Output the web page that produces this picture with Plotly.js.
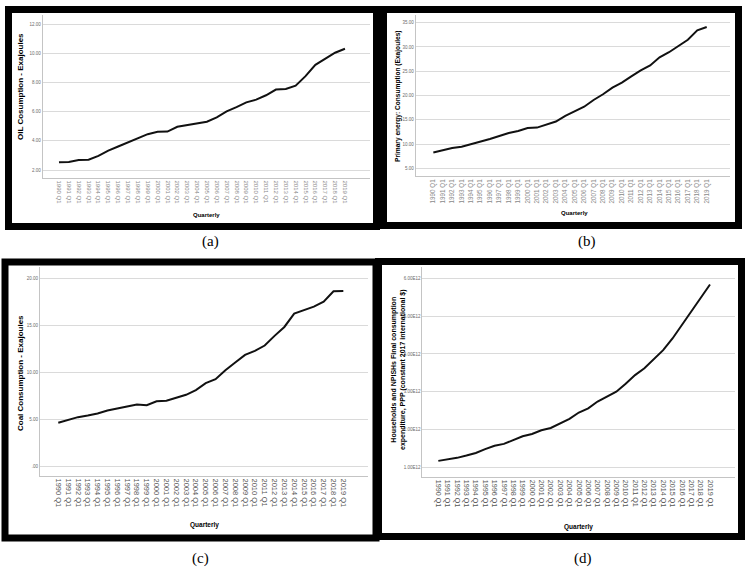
<!DOCTYPE html>
<html>
<head>
<meta charset="utf-8">
<script src="https://cdn.plot.ly/plotly-3.0.1.min.js"></script>
<style>html,body{margin:0;padding:0;background:#fff;}#chart{width:753px;height:571px;}</style>
</head>
<body>
<div id="chart"></div>
<script>
const categories = ['1990 Q1','1991 Q1','1992 Q1','1993 Q1','1994 Q1','1995 Q1','1996 Q1','1997 Q1','1998 Q1','1999 Q1',
  '2000 Q1','2001 Q1','2002 Q1','2003 Q1','2004 Q1','2005 Q1','2006 Q1','2007 Q1','2008 Q1','2009 Q1',
  '2010 Q1','2011 Q1','2012 Q1','2013 Q1','2014 Q1','2015 Q1','2016 Q1','2017 Q1','2018 Q1','2019 Q1'];

const oil = [2.53,2.55,2.69,2.71,2.97,3.33,3.61,3.89,4.21,4.46,4.62,4.64,4.97,5.08,5.22,5.31,5.61,6.02,6.32,6.64,6.83,7.13,7.52,7.56,7.79,8.44,9.22,9.63,10.05,10.32];
const primary = [8.27,8.75,9.17,9.45,9.93,10.55,11.04,11.66,12.29,12.70,13.32,13.39,14.09,14.64,15.82,16.79,17.69,19.07,20.25,21.63,22.67,23.92,25.17,26.20,27.87,28.91,30.22,31.47,33.41,34.10];
const coal = [4.61,4.93,5.21,5.39,5.60,5.92,6.10,6.35,6.56,6.49,6.91,6.95,7.27,7.59,8.09,8.83,9.26,10.21,11.03,11.84,12.27,12.84,13.87,14.82,16.24,16.63,16.99,17.52,18.62,18.65];
const consumption = [1.17e12,1.21e12,1.25e12,1.31e12,1.38e12,1.48e12,1.57e12,1.62e12,1.73e12,1.82e12,1.88e12,1.98e12,2.04e12,2.17e12,2.28e12,2.45e12,2.56e12,2.74e12,2.86e12,3.00e12,3.21e12,3.44e12,3.62e12,3.86e12,4.10e12,4.41e12,4.77e12,5.12e12,5.50e12,5.84e12];

const oilTickVals = [2,4,6,8,10,12];
const oilTickText = ['2.00','4.00','6.00','8.00','10.00','12.00'];
const primaryTickVals = [5,10,15,20,25,30,35];
const primaryTickText = ['5.00','10.00','15.00','20.00','25.00','30.00','35.00'];
const coalTickVals = [0,5,10,15,20];
const coalTickText = ['.00','5.00','10.00','15.00','20.00'];
const consTickVals = [1e12,2e12,3e12,4e12,5e12,6e12];
const consTickText = ['1.00E12','2.00E12','3.00E12','4.00E12','5.00E12','6.00E12'];

const W = 753, H = 571;
const fx = p => p / W;
const fy = p => 1 - p / H;
const SANS = 'Liberation Sans, Arial, sans-serif';

function xAxis(x0, x1, range, angle, size, color, anchor) {
  return {
    domain: [fx(x0), fx(x1)], anchor: anchor, type: 'category', range: range,
    showgrid: false, zeroline: false, showline: true, linecolor: '#c4c4c4', linewidth: 1,
    ticks: '', tickangle: angle, tickfont: {family: SANS, size: size, color: color}
  };
}
function yAxis(y0, y1, range, vals, text, anchor) {
  return {
    domain: [fy(y1), fy(y0)], anchor: anchor, range: range,
    tickmode: 'array', tickvals: vals, ticktext: text,
    showgrid: true, gridcolor: '#dadada', gridwidth: 1, zeroline: false,
    showline: true, linecolor: '#c4c4c4', linewidth: 1, ticks: '',
    tickfont: {family: SANS, size: 4.5, color: '#6a6a6a'}
  };
}

const lineStyle = {color: '#111', width: 2};
const data = [
  {x: categories, y: oil, type: 'scatter', mode: 'lines', line: lineStyle, xaxis: 'x', yaxis: 'y', hoverinfo: 'x+y'},
  {x: categories, y: primary, type: 'scatter', mode: 'lines', line: lineStyle, xaxis: 'x2', yaxis: 'y2', hoverinfo: 'x+y'},
  {x: categories, y: coal, type: 'scatter', mode: 'lines', line: lineStyle, xaxis: 'x3', yaxis: 'y3', hoverinfo: 'x+y'},
  {x: categories, y: consumption, type: 'scatter', mode: 'lines', line: lineStyle, xaxis: 'x4', yaxis: 'y4', hoverinfo: 'x+y'}
];

function frame(x0, y0, x1, y1) {
  return {type: 'rect', xref: 'paper', yref: 'paper', x0: fx(x0), x1: fx(x1), y0: fy(y1), y1: fy(y0),
          line: {color: '#000', width: 7}, fillcolor: 'rgba(0,0,0,0)', layer: 'above'};
}
function note(text, x, y, size, bold, angle, family) {
  return {text: bold ? '<b>' + text + '</b>' : text, xref: 'paper', yref: 'paper', x: fx(x), y: fy(y),
          xanchor: 'center', yanchor: 'middle', showarrow: false, textangle: angle || 0,
          font: {family: family || SANS, size: size, color: '#000'}};
}

const layout = {
  width: W, height: H, margin: {l: 0, r: 0, t: 0, b: 0},
  paper_bgcolor: '#fff', plot_bgcolor: '#fff', showlegend: false,
  xaxis:  xAxis(42.7, 370, [-1.65, 31.54], 90, 6, '#8a8a8a', 'y'),
  yaxis:  yAxis(15, 178.3, [1.43, 12.64], oilTickVals, oilTickText, 'x'),
  xaxis2: xAxis(415.7, 730, [-1.87, 31.47], -90, 6.3, '#8a8a8a', 'y2'),
  yaxis2: yAxis(15, 175.7, [3.48, 36.58], primaryTickVals, primaryTickText, 'x2'),
  xaxis3: xAxis(40, 368.3, [-1.86, 31.54], 90, 7.5, '#555', 'y3'),
  yaxis3: yAxis(266.7, 476, [-1.06, 21.24], coalTickVals, coalTickText, 'x3'),
  xaxis4: xAxis(422.3, 735, [-1.71, 31.67], 90, 7.2, '#555', 'y4'),
  yaxis4: yAxis(266.7, 477.3, [0.735e12, 6.31e12], consTickVals, consTickText, 'x4'),
  shapes: [
    frame(8.5, 9.5, 376.5, 226.5),
    frame(383.5, 9.5, 738.5, 225.5),
    frame(5, 262, 376, 538),
    frame(378.5, 261.5, 741.5, 536.5)
  ],
  annotations: [
    note('OIL Cosumption - Exajoules', 21, 87, 8, true, -90),
    note('Primary energy: Consumption (Exajoules)', 398, 96, 6.6, true, -90),
    note('Coal Consumption - Exajoules', 20, 373, 8, true, -90),
    note('Households and NPISHs Final consumption<br>expenditure, PPP (constant 2017 international $)', 398, 370, 7, true, -90),
    note('Quarterly', 207, 215, 6, true),
    note('Quarterly', 574, 213, 6, true),
    note('Quarterly', 204, 525, 6.5, true),
    note('Quarterly', 578, 527, 6.5, true),
    note('(a)', 211, 241, 15, false, 0, 'Liberation Serif, serif'),
    note('(b)', 587, 241, 15, false, 0, 'Liberation Serif, serif'),
    note('(c)', 200, 558, 15, false, 0, 'Liberation Serif, serif'),
    note('(d)', 583, 558, 15, false, 0, 'Liberation Serif, serif')
  ]
};

Plotly.newPlot('chart', data, layout, {displayModeBar: false, staticPlot: true});
</script>
</body>
</html>
